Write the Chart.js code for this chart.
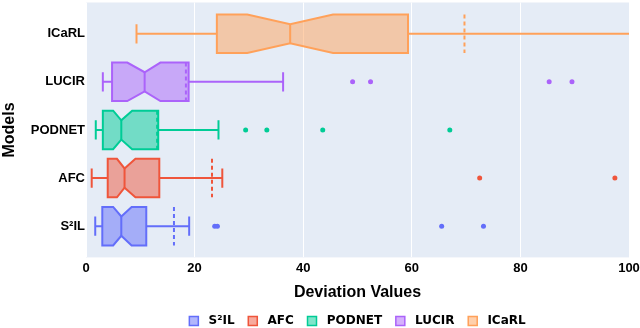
<!DOCTYPE html>
<html>
<head>
<meta charset="utf-8">
<script src="https://cdn.jsdelivr.net/npm/chart.js@4.4.0/dist/chart.umd.min.js"></script>
<style>
  html, body { margin: 0; padding: 0; background: #fff; overflow: hidden; }
  #wrap { width: 640px; height: 337px; }
</style>
</head>
<body>
<div id="wrap"><canvas id="boxChart"></canvas></div>
<script>
// models, bottom to top
const models = ['S²IL', 'AFC', 'PODNET', 'LUCIR', 'ICaRL'];
const colors = ['#636EFA', '#EF553B', '#00CC96', '#AB63FA', '#FFA15A'];

// box statistics
const whiskerLow  = [1.7, 1.05, 1.8, 3.1, 9.3];
const q1          = [3.0, 4.0, 3.1, 4.8, 24.1];
const notchLow    = [5.0, 5.7, 5.0, 7.6, 29.7];
const medians     = [6.5, 7.1, 6.5, 10.8, 37.6];
const notchHigh   = [8.4, 9.1, 8.5, 13.7, 45.5];
const q3          = [11.1, 13.5, 13.3, 18.9, 59.3];
const whiskerHigh = [19.0, 25.1, 24.4, 36.3, 112];
const means       = [16.2, 23.2, 13.1, 18.4, 69.7];
const outliers = [
    [23.7, 24.2, 65.5, 73.2],
    [72.5, 97.4],
    [29.4, 33.3, 43.6, 67.0],
    [49.1, 52.4, 85.3, 89.5],
    []
];
const xTicks = [0, 20, 40, 60, 80, 100];

const FONT = '"Liberation Sans", Arial, sans-serif';

function alpha(hex, a) {
    const n = parseInt(hex.slice(1), 16);
    return 'rgba(' + (n >> 16) + ',' + ((n >> 8) & 255) + ',' + (n & 255) + ',' + a + ')';
}

const plotBg = {
    id: 'plotBg',
    beforeDraw(chart) {
        const a = chart.chartArea, c = chart.ctx;
        c.save();
        c.fillStyle = '#E5ECF6';
        c.fillRect(a.left, a.top, a.right - a.left, a.bottom - a.top);
        c.restore();
    }
};

const boxes = {
    id: 'boxes',
    beforeDatasetsDraw(chart) {
        const c = chart.ctx, a = chart.chartArea;
        const xs = chart.scales.x, ys = chart.scales.y;
        const X = v => xs.getPixelForValue(v);
        const Y = v => ys.getPixelForValue(v);
        c.save();
        c.beginPath();
        c.rect(a.left, a.top, a.right - a.left, a.bottom - a.top);
        c.clip();
        models.forEach((m, i) => {
            const col = colors[i];
            const top = Y(i + 0.4), bot = Y(i - 0.4);
            const nTop = Y(i + 0.2), nBot = Y(i - 0.2);
            const capTop = Y(i + 0.2), capBot = Y(i - 0.2);
            const cy = Y(i);
            c.lineWidth = 2;
            c.strokeStyle = col;
            c.setLineDash([]);
            // whiskers
            c.beginPath();
            c.moveTo(X(whiskerLow[i]), cy); c.lineTo(X(q1[i]), cy);
            c.moveTo(X(q3[i]), cy); c.lineTo(X(whiskerHigh[i]), cy);
            c.moveTo(X(whiskerLow[i]), capTop); c.lineTo(X(whiskerLow[i]), capBot);
            c.moveTo(X(whiskerHigh[i]), capTop); c.lineTo(X(whiskerHigh[i]), capBot);
            c.stroke();
            // notched box
            c.beginPath();
            c.moveTo(X(q1[i]), top);
            c.lineTo(X(notchLow[i]), top);
            c.lineTo(X(medians[i]), nTop);
            c.lineTo(X(notchHigh[i]), top);
            c.lineTo(X(q3[i]), top);
            c.lineTo(X(q3[i]), bot);
            c.lineTo(X(notchHigh[i]), bot);
            c.lineTo(X(medians[i]), nBot);
            c.lineTo(X(notchLow[i]), bot);
            c.lineTo(X(q1[i]), bot);
            c.closePath();
            c.fillStyle = alpha(col, 0.5);
            c.fill();
            c.stroke();
            // median
            c.beginPath();
            c.moveTo(X(medians[i]), nTop); c.lineTo(X(medians[i]), nBot);
            c.stroke();
            // mean
            c.setLineDash([4, 3]);
            c.beginPath();
            c.moveTo(X(means[i]), top); c.lineTo(X(means[i]), bot);
            c.stroke();
        });
        c.restore();
    }
};

const ctx = document.getElementById('boxChart');
const myChart = new Chart(ctx, {
    type: 'scatter',
    data: {
        datasets: models.map((m, i) => ({
            label: m,
            data: outliers[i].map(v => ({ x: v, y: i })),
            backgroundColor: colors[i],
            borderColor: colors[i],
            pointRadius: 2.5,
            pointHoverRadius: 2.5,
            borderWidth: 0
        }))
    },
    options: {
        responsive: true,
        maintainAspectRatio: false,
        animation: false,
        layout: { padding: { top: 0, right: 11, bottom: 0, left: 0 } },
        scales: {
            x: {
                type: 'linear',
                min: 0,
                max: 100,
                afterBuildTicks: s => { s.ticks = xTicks.map(v => ({ value: v })); },
                afterFit: s => { s.height = 54.6; s.paddingLeft = 0; s.paddingRight = 0; },
                grid: { color: '#ffffff', lineWidth: 1, drawTicks: false },
                border: { display: false },
                ticks: { color: '#000', padding: 3, font: { family: FONT, size: 13, weight: 'bold' } },
                title: {
                    display: true,
                    text: 'Deviation Values',
                    color: '#000',
                    padding: { top: 7, bottom: 10 },
                    font: { family: FONT, size: 16, weight: 'bold' }
                }
            },
            y: {
                type: 'linear',
                min: -0.65,
                max: 4.65,
                afterBuildTicks: s => { s.ticks = models.map((m, i) => ({ value: i })); },
                afterFit: s => { s.width = 86; s.paddingTop = 0; s.paddingBottom = 0; },
                grid: { display: false, drawTicks: false },
                border: { display: false },
                ticks: {
                    color: '#000',
                    padding: 1,
                    font: { family: FONT, size: 13, weight: 'bold' },
                    callback: v => models[v]
                },
                title: {
                    display: true,
                    text: 'Models',
                    color: '#000',
                    padding: { top: 0, bottom: 0 },
                    font: { family: FONT, size: 16, weight: 'bold' }
                }
            }
        },
        plugins: {
            tooltip: { enabled: false },
            legend: {
                position: 'bottom',
                fullSize: false,
                labels: {
                    boxWidth: 9,
                    boxHeight: 9,
                    padding: 3,
                    color: '#000',
                    font: { family: '"DejaVu Sans", sans-serif', size: 12, weight: 'bold' },
                    generateLabels: chart => models.map((m, i) => ({
                        text: ' ' + m + (i < models.length - 1 ? '  \u2009' : ''),
                        fillStyle: alpha(colors[i], 0.5),
                        strokeStyle: colors[i],
                        lineWidth: 1.5,
                        datasetIndex: i,
                        hidden: false
                    }))
                }
            }
        }
    },
    plugins: [plotBg, boxes]
});
</script>
</body>
</html>
